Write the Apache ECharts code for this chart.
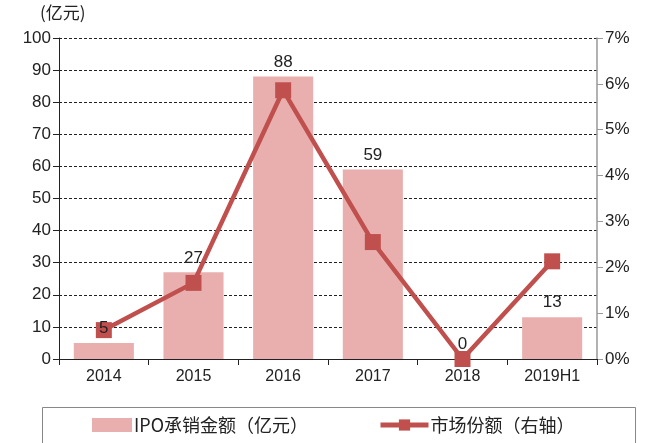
<!DOCTYPE html>
<html>
<head>
<meta charset="utf-8">
<script src="https://cdn.jsdelivr.net/npm/echarts@6/dist/echarts.min.js"></script>
<style>
  html, body { margin: 0; padding: 0; background: #fff; }
  #main { width: 648px; height: 443px; }
</style>
</head>
<body>
<div id="main"></div>
<script>
// data
var years = ['2014', '2015', '2016', '2017', '2018', '2019H1'];
var ipoAmount = [5, 27, 88, 59, 0, 13];          // 亿元
var marketShare = [0.63, 1.66, 5.86, 2.55, 0, 2.13]; // %

var font = '"Liberation Sans Narrow", "Liberation Sans", Arial, sans-serif';
var cjk = '"Noto Sans CJK SC", sans-serif';

var legendText = { fontFamily: cjk, fontSize: 18, color: '#222', padding: [0, 0, 0, -3] };

var chart = echarts.init(document.getElementById('main'));
chart.setOption({
    backgroundColor: '#fff',
    animation: false,
    grid: { left: 59, right: 51, top: 38, bottom: 84 },
    graphic: [
        {
            type: 'text', left: 40, top: 4,
            style: { text: '(亿元)', font: '17px ' + cjk, fill: '#222' }
        },
        {
            type: 'rect', left: 40, top: 405,
            shape: { width: 593, height: 37 },
            style: { fill: 'none', stroke: '#888', lineWidth: 1 }
        }
    ],
    legend: [
        {
            top: 411, left: 87,
            itemWidth: 40, itemHeight: 14,
            textStyle: legendText,
            data: [{ name: 'IPO承销金额（亿元）', icon: 'rect' }]
        },
        {
            top: 411, left: 373,
            itemWidth: 48, itemHeight: 14,
            textStyle: legendText,
            lineStyle: { width: 5 },
            data: [{ name: '市场份额（右轴）' }]
        }
    ],
    xAxis: {
        type: 'category',
        data: years,
        axisLine: { lineStyle: { color: '#222' } },
        axisTick: { show: true, length: 6, lineStyle: { color: '#222' } },
        axisLabel: { fontFamily: font, fontSize: 16, color: '#222', margin: 10 }
    },
    yAxis: [
        {
            type: 'value', min: 0, max: 100, interval: 10,
            axisLine: { show: true, lineStyle: { color: '#222' } },
            axisTick: { show: true, length: 6, lineStyle: { color: '#222' } },
            axisLabel: { fontFamily: font, fontSize: 17, color: '#222', margin: 8 },
            splitLine: { lineStyle: { color: '#222', type: [3, 2], width: 1 } }
        },
        {
            type: 'value', min: 0, max: 7, interval: 1,
            position: 'right',
            axisLine: { show: true, lineStyle: { color: '#999', width: 1.5 } },
            axisTick: { show: true, length: 6, lineStyle: { color: '#999' } },
            axisLabel: { fontFamily: font, fontSize: 17, color: '#222', margin: 8, formatter: '{value}%' },
            splitLine: { show: false }
        }
    ],
    series: [
        {
            name: 'IPO承销金额（亿元）',
            type: 'bar',
            yAxisIndex: 0,
            barCategoryGap: '33%',
            itemStyle: { color: '#E8AFAE' },
            data: ipoAmount
        },
        {
            name: '市场份额（右轴）',
            type: 'line',
            yAxisIndex: 1,
            symbol: 'rect',
            symbolSize: 16,
            lineStyle: { color: '#C0504D', width: 4.5 },
            itemStyle: { color: '#C0504D' },
            z: 3,
            data: marketShare
        },
        {
            // value labels drawn above the line
            name: 'labels',
            type: 'bar',
            yAxisIndex: 0,
            barGap: '-100%',
            barCategoryGap: '33%',
            itemStyle: { color: 'rgba(0,0,0,0)' },
            label: {
                show: true, position: 'top', distance: 6,
                fontFamily: font, fontSize: 17, color: '#222'
            },
            z: 5,
            silent: true,
            data: ipoAmount
        }
    ]
});
</script>
</body>
</html>
